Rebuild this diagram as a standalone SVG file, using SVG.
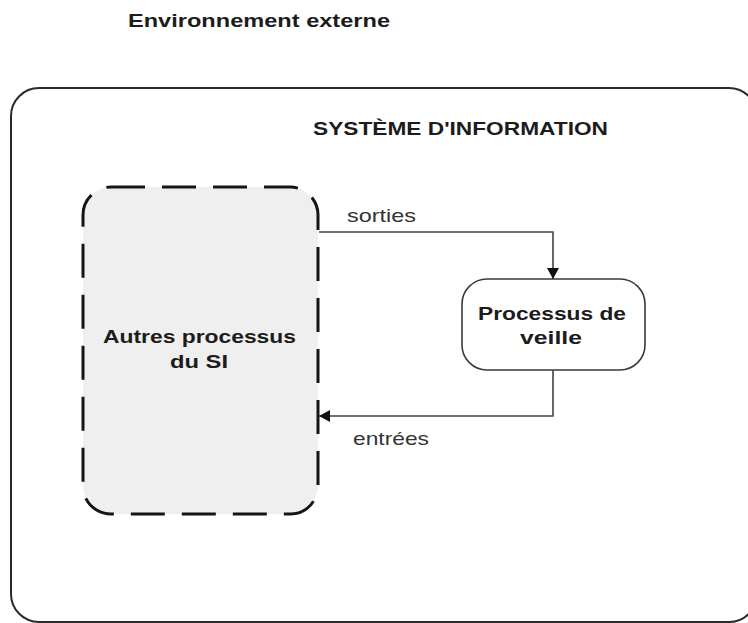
<svg xmlns="http://www.w3.org/2000/svg" width="748" height="623" viewBox="0 0 748 623">
  <style>
    .title { font-family: "Liberation Sans", Arial, sans-serif; font-weight: bold; font-size: 19px; fill: #1c1c1c; }
    .label { font-family: "Liberation Sans", Arial, sans-serif; font-size: 19px; fill: #333; }
    .boundary { fill: none; stroke: #2a2a2a; stroke-width: 2; }
    .process { fill: #ffffff; stroke: #3a3a3a; stroke-width: 1.6; }
    .other { fill: #efefef; stroke: #151515; stroke-width: 3; stroke-dasharray: 34 17; }
    .flow { fill: none; stroke: #444; stroke-width: 1.6; }
  </style>
  <defs>
    <marker id="arrow" markerUnits="userSpaceOnUse" markerWidth="11" markerHeight="12" refX="11" refY="6" orient="auto">
      <path d="M0,0 L11,6 L0,12 z" fill="#111"/>
    </marker>
  </defs>

  <rect width="748" height="623" fill="#ffffff"/>

  <!-- external environment label -->
  <text class="title" x="128" y="27" textLength="262" lengthAdjust="spacingAndGlyphs">Environnement externe</text>

  <!-- information system boundary -->
  <g id="systeme-information">
    <rect class="boundary" x="11" y="88" width="746" height="534" rx="28" ry="28"/>
    <text class="title" x="313" y="135" textLength="295" lengthAdjust="spacingAndGlyphs">SYSTÈME D'INFORMATION</text>
  </g>

  <!-- other IS processes -->
  <g id="autres-processus">
    <rect class="other" x="83" y="187" width="235" height="327" rx="28" ry="28"/>
    <text class="title" x="103" y="343" textLength="193" lengthAdjust="spacingAndGlyphs">Autres processus</text>
    <text class="title" x="170" y="368" textLength="58" lengthAdjust="spacingAndGlyphs">du SI</text>
  </g>

  <!-- monitoring process -->
  <g id="processus-veille">
    <rect class="process" x="462" y="279" width="183" height="91" rx="25" ry="25"/>
    <text class="title" x="478" y="320" textLength="148" lengthAdjust="spacingAndGlyphs">Processus de</text>
    <text class="title" x="520" y="344" textLength="62" lengthAdjust="spacingAndGlyphs">veille</text>
  </g>

  <!-- flows -->
  <g id="connecteurs">
    <path class="flow" d="M319,232 H553 V279" marker-end="url(#arrow)"/>
    <text class="label" x="347" y="222" textLength="69" lengthAdjust="spacingAndGlyphs">sorties</text>
    <path class="flow" d="M553,370 V416 H319" marker-end="url(#arrow)"/>
    <text class="label" x="353" y="445" textLength="76" lengthAdjust="spacingAndGlyphs">entrées</text>
  </g>
</svg>
